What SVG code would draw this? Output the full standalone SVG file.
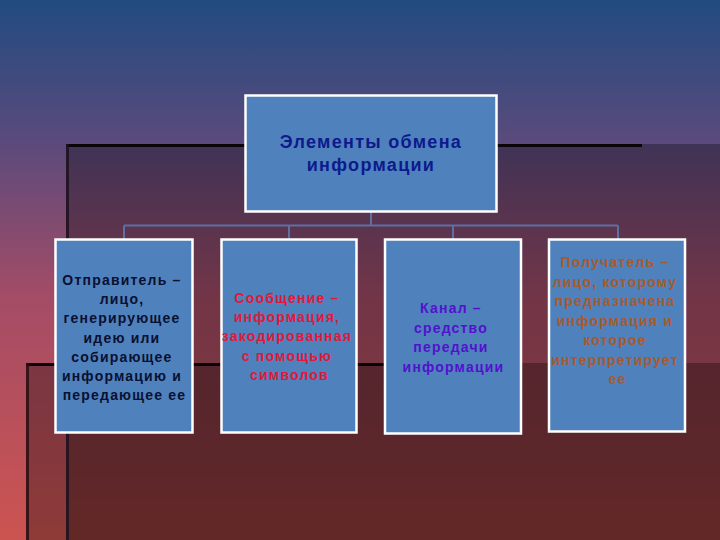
<svg xmlns="http://www.w3.org/2000/svg" width="720" height="540" viewBox="0 0 720 540">
  <defs>
    <linearGradient id="bg" x1="0" y1="0" x2="0" y2="1">
      <stop offset="0" stop-color="#214b80"/>
      <stop offset="0.26" stop-color="#5a4a7c"/>
      <stop offset="0.55" stop-color="#a44c66"/>
      <stop offset="1" stop-color="#cc5450"/>
    </linearGradient>
    <style>
      .box { fill: #4f81bd; stroke: #ffffff; stroke-width: 2.5; }
      .conn { fill: none; stroke: #5f6fa3; stroke-width: 2; }
      .t { font-family: "Liberation Sans", Arial, sans-serif; font-weight: bold; text-anchor: middle; }
      .small { font-size: 14px; letter-spacing: 1.2px; }
      .title { font-size: 18px; letter-spacing: 1.3px; fill: #0c1a8c; }
    </style>
  </defs>

  <!-- background -->
  <rect x="0" y="0" width="720" height="540" fill="url(#bg)"/>
  <rect x="66" y="144" width="654" height="396" fill="#000000" fill-opacity="0.3"/>
  <rect x="26" y="363" width="694" height="177" fill="#000000" fill-opacity="0.3"/>
  <rect x="66" y="144" width="576" height="3" fill="#0a0508"/>
  <rect x="66" y="144" width="3" height="396" fill="#1e1020" fill-opacity="0.85"/>
  <rect x="26" y="363" width="496" height="3" fill="#0a0508"/>
  <rect x="26" y="363" width="3" height="177" fill="#2a0e10" fill-opacity="0.85"/>

  <!-- connectors -->
  <g id="connectors">
    <path class="conn" d="M371,212 V225.5"/>
    <path class="conn" d="M124,225.5 H618"/>
    <path class="conn" d="M124,225.5 V239"/>
    <path class="conn" d="M289,225.5 V239"/>
    <path class="conn" d="M453,225.5 V239"/>
    <path class="conn" d="M618,225.5 V239"/>
  </g>

  <g id="root">
    <rect class="box" x="245.5" y="95.5" width="251" height="116"/>
    <text class="t title" x="371" y="148">Элементы обмена</text>
    <text class="t title" x="371" y="171">информации</text>
  </g>

  <g id="sender">
    <rect class="box" x="55.5" y="239.5" width="137" height="193"/>
    <text class="t small" fill="#0a1030">
      <tspan x="124.5" y="285">Отправитель –</tspan>
      <tspan x="124.5" y="304.2">лицо,</tspan>
      <tspan x="124.5" y="323.4">генерирующее</tspan>
      <tspan x="124.5" y="342.6">идею или</tspan>
      <tspan x="124.5" y="361.8">собирающее</tspan>
      <tspan x="124.5" y="381">информацию и</tspan>
      <tspan x="124.5" y="400.2">передающее ее</tspan>
    </text>
  </g>

  <g id="message">
    <rect class="box" x="221.5" y="239.5" width="135" height="193"/>
    <text class="t small" fill="#e0183a">
      <tspan x="289.5" y="303">Сообщение –</tspan>
      <tspan x="289.5" y="322.2">информация,</tspan>
      <tspan x="289.5" y="341.4">закодированная</tspan>
      <tspan x="289.5" y="360.6">с помощью</tspan>
      <tspan x="289.5" y="379.8">символов</tspan>
    </text>
  </g>

  <g id="channel">
    <rect class="box" x="385" y="239.5" width="136" height="194"/>
    <text class="t small" fill="#5212cc">
      <tspan x="453.5" y="313">Канал –</tspan>
      <tspan x="453.5" y="332.5">средство</tspan>
      <tspan x="453.5" y="352">передачи</tspan>
      <tspan x="453.5" y="371.5">информации</tspan>
    </text>
  </g>

  <g id="receiver">
    <rect class="box" x="549" y="239.5" width="136" height="192"/>
    <text class="t small" fill="#a85a2c">
      <tspan x="617.5" y="267">Получатель –</tspan>
      <tspan x="617.5" y="286.5">лицо, которому</tspan>
      <tspan x="617.5" y="306">предназначена</tspan>
      <tspan x="617.5" y="325.5">информация и</tspan>
      <tspan x="617.5" y="345">которое</tspan>
      <tspan x="617.5" y="364.5">интерпретирует</tspan>
      <tspan x="617.5" y="384">ее</tspan>
    </text>
  </g>
</svg>
